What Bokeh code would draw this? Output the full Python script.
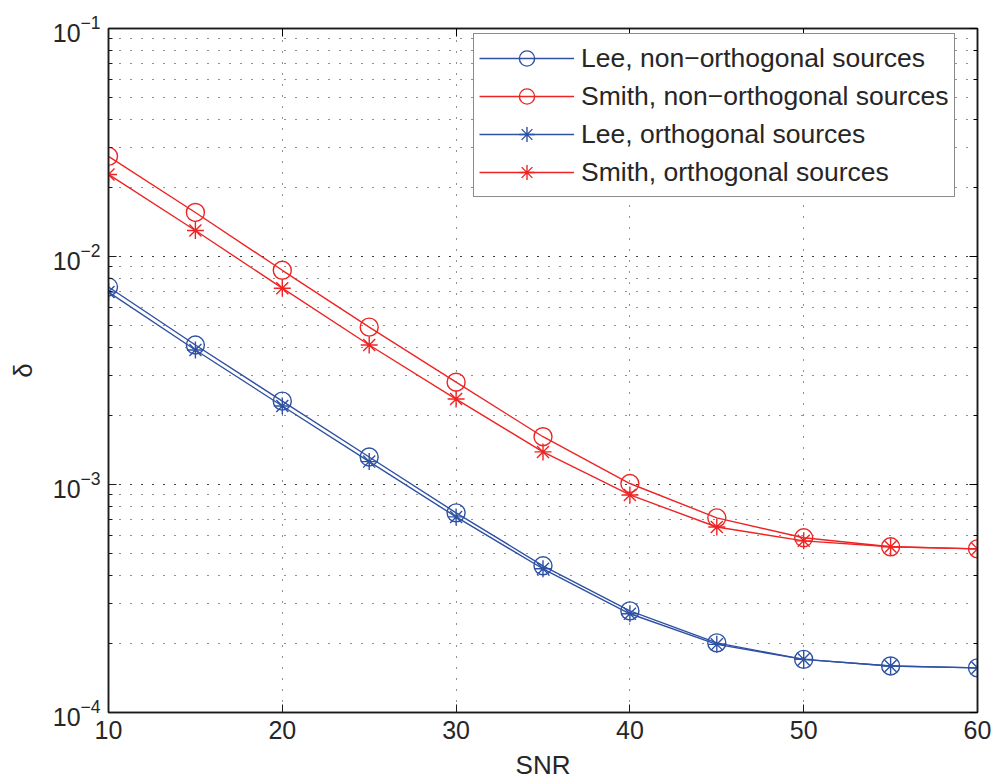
from bokeh.plotting import figure
from bokeh.models import (ColumnDataSource, LinearAxis, LogAxis, Legend, LegendItem,
                          FixedTicker, Range1d)
from bokeh.embed import file_html
from bokeh.resources import INLINE

snr = [10, 15, 20, 25, 30, 35, 40, 45, 50, 55, 60]
lee_nonorth = [0.00735, 0.00409, 0.00232, 0.00132, 0.000751, 0.000440, 0.000279,
               0.000202, 0.000171, 0.000160, 0.000157]
smith_nonorth = [0.0275, 0.0156, 0.0087, 0.0049, 0.00281, 0.00162, 0.00101,
                 0.000714, 0.000584, 0.000533, 0.000522]
lee_orth = [0.00698, 0.00389, 0.00221, 0.00126, 0.000721, 0.000427, 0.000271,
            0.000199, 0.000171, 0.000160, 0.000157]
smith_orth = [0.0229, 0.0130, 0.00726, 0.00409, 0.00237, 0.00139, 0.000900,
              0.000651, 0.000566, 0.000533, 0.000522]
x_ticks = [10, 20, 30, 40, 50, 60]
labels = ["Lee, non\u2212orthogonal sources", "Smith, non\u2212orthogonal sources",
          "Lee, orthogonal sources", "Smith, orthogonal sources"]

BLUE = "#2f51a3"
RED = "#ee2424"
FONT = "Liberation Sans"
TXT = "#262626"

p = figure(width=995, height=782, y_axis_type="log", output_backend="svg",
           toolbar_location=None, x_range=Range1d(10, 60), y_range=Range1d(1e-4, 1e-1),
           min_border_left=108, min_border_right=18, min_border_top=28, min_border_bottom=69)
p.background_fill_color = "white"
p.border_fill_color = "white"
p.outline_line_color = "#1a1a1a"
p.outline_line_width = 1.5

# axes
p.xaxis.ticker = FixedTicker(ticks=x_ticks)
p.xaxis.axis_label = "SNR"
p.yaxis.axis_label = "\u03b4"
for ax in [p.xaxis[0], p.yaxis[0]]:
    ax.axis_label_text_font = FONT
    ax.axis_label_text_font_size = "26px"
    ax.axis_label_text_font_style = "normal"
    ax.axis_label_text_color = TXT
    ax.major_label_text_font = FONT
    ax.major_label_text_font_size = "25px"
    ax.major_label_text_color = TXT
    ax.axis_line_color = "#1a1a1a"
    ax.axis_line_width = 1.5
    ax.major_tick_in = 8
    ax.major_tick_out = 0
    ax.minor_tick_in = 4
    ax.minor_tick_out = 0
    ax.major_tick_line_color = "#1a1a1a"
    ax.minor_tick_line_color = "#1a1a1a"
p.xaxis.minor_tick_line_color = None
p.xaxis.major_label_standoff = 8
p.xaxis.axis_label_standoff = 8
p.yaxis.major_label_standoff = 8
p.yaxis.axis_label_standoff = 12

top = LinearAxis(ticker=FixedTicker(ticks=x_ticks), major_label_text_font_size="1px",
                 major_label_text_alpha=0, major_label_standoff=0,
                 major_tick_in=8, major_tick_out=0,
                 minor_tick_line_color=None, axis_line_color="#1a1a1a", axis_line_width=1.5)
right = LogAxis(major_label_text_font_size="1px", major_label_text_alpha=0,
                major_label_standoff=0,
                major_tick_in=8, major_tick_out=0, minor_tick_in=4, minor_tick_out=0,
                axis_line_color="#1a1a1a", axis_line_width=1.5)
p.add_layout(top, "above")
p.add_layout(right, "right")

# grids
for g in [p.xgrid[0], p.ygrid[0]]:
    g.grid_line_color = "#222222"
    g.grid_line_dash = "1 10"
    g.grid_line_width = 1
p.ygrid.minor_grid_line_color = "#222222"
p.ygrid.minor_grid_line_dash = "1 10"
p.ygrid.minor_grid_line_width = 1

src = ColumnDataSource(dict(x=snr, a=lee_nonorth, b=smith_nonorth, c=lee_orth, d=smith_orth))

items = []
specs = [("a", BLUE, "circle"), ("b", RED, "circle"), ("c", BLUE, "asterisk"), ("d", RED, "asterisk")]
for (col, color, mk), lab in zip(specs, labels):
    ln = p.line("x", col, source=src, line_color=color, line_width=1.4)
    if mk == "circle":
        sc = p.scatter("x", col, source=src, marker="circle", size=18, fill_color=None,
                       line_color=color, line_width=1.4)
    else:
        sc = p.scatter("x", col, source=src, marker="asterisk", size=17,
                       line_color=color, line_width=1.4)
    items.append(LegendItem(label=lab, renderers=[ln, sc]))

legend = Legend(items=items, location=(365, 515), label_text_font=FONT,
                label_text_font_size="26.5px", label_text_color=TXT,
                glyph_width=95, glyph_height=38, label_height=38, spacing=0,
                padding=5, label_standoff=7, margin=0,
                border_line_color="#1a1a1a", border_line_width=1.5,
                background_fill_color="white", background_fill_alpha=1)
p.add_layout(legend, "center")

open("out.html", "w").write(file_html(p, INLINE))
